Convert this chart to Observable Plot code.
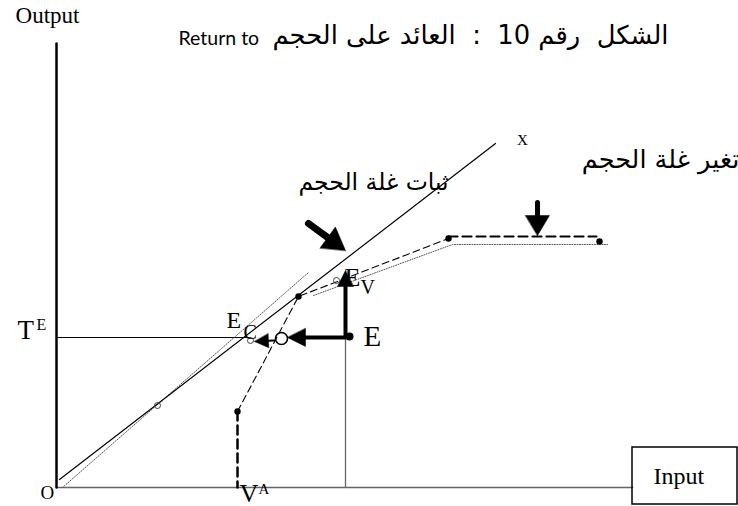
<!DOCTYPE html>
<html><head><meta charset="utf-8">
<script src="https://cdn.jsdelivr.net/npm/d3@7"></script>
<script src="https://cdn.jsdelivr.net/npm/@observablehq/plot@0.6"></script>
<style>body{margin:0;background:#fff}</style>
</head><body><div id="chart"></div>
<script>
// data units: origin O = (0,0), one unit per pixel
const yAxisLine = [{x:0,y:0},{x:0,y:444}];
const xAxisLine = [{x:0,y:0},{x:576,y:0}];
const inputBox = [{x1:576,x2:681,y1:-17,y2:40}];
const constantReturns = [{x:3,y:8},{x:439,y:344}];
const originRay = [{x:6,y:0},{x:252,y:215}];
const teLine = [{x:0,y:150},{x:194,y:150}];
const eDrop = [{x:289,y:151},{x:289,y:0}];
const variableReturns = [{x:181,y:76},{x:242,y:191},{x:392,y:249}];
const plateau = [{x:392,y:251},{x:540,y:251}];
const vaDrop = [{x:181,y:76},{x:181,y:0}];
const lowerDotted = [{x:257,y:192},{x:396,y:243},{x:551,y:243}];
const solidDots = [{x:181,y:76},{x:242,y:191},{x:392,y:249},{x:543,y:246}];
const pointE = [{x:293,y:151}];
const hollowDots = [{x:101,y:82},{x:194,y:147},{x:280,y:207}];
const bigCircle = [{x:225,y:149}];
// arrows: from (x1,y1) to tip (x2,y2)
const arrowsData = [
  {id:"up",   x1:289,y1:151,x2:289,y2:217},
  {id:"left", x1:289,y1:150,x2:231,y2:150},
  {id:"small",x1:218,y1:147,x2:198,y2:146},
  {id:"diag", x1:252,y1:264,x2:289,y2:237},
  {id:"down", x1:481,y1:285,x2:481,y2:252}
];
// labels
const serifLabels = [
  {t:"Output", x:-9, y:465},
  {t:"X", x:466, y:343},
  {t:"T", x:-39, y:149},
  {t:"E", x:-20, y:158},
  {t:"E", x:170, y:160},
  {t:"C", x:187, y:149},
  {t:"E", x:288, y:202},
  {t:"V", x:304, y:194},
  {t:"E", x:307, y:142},
  {t:"O", x:-16, y:-11},
  {t:"V", x:183, y:-14},
  {t:"A", x:202, y:-6},
  {t:"Input", x:597, y:4}
];
const serifSizes = [23,15,27,16,24,20,26,20,29,19,26,15,24];
const titleLatin = [{t:"Return to", x:122, y:443}];
const titleArabic = [{t:"الشكل  رقم 10  :  العائد على الحجم", x:612, y:444}];
const arabicLabels = [
  {t:"ثبات غلة الحجم", x:317, y:298},
  {t:"تغير غلة الحجم", x:604, y:320}
];
const arabicSizes = [23.5,25.5];

// arrow geometry (shaft + filled head) derived from arrow data
const headDims = {up:[16,8], left:[18,9], small:[14,7], diag:[22,13], down:[20,12]};
const shaftWidths = {up:4, left:4, small:2, diag:7, down:5};
const shafts = [], heads = [];
for (const a of arrowsData) {
  const [len, hw] = headDims[a.id];
  const dx = a.x2 - a.x1, dy = a.y2 - a.y1, L = Math.hypot(dx, dy);
  const ux = dx / L, uy = dy / L, nx = -uy, ny = ux;
  const bx = a.x2 - ux * len, by = a.y2 - uy * len;
  shafts.push({id:a.id, x:a.x1, y:a.y1}, {id:a.id, x:bx + ux, y:by + uy});
  heads.push({id:a.id, x:a.x2, y:a.y2},
             {id:a.id, x:bx + nx*hw, y:by + ny*hw},
             {id:a.id, x:bx - nx*hw, y:by - ny*hw});
}

const serif = "Liberation Serif, Times New Roman, serif";
const arab = "DejaVu Sans, sans-serif";

const marks = [
  Plot.line(xAxisLine, {x:"x", y:"y", stroke:"#666", strokeWidth:1.6}),
  Plot.line(yAxisLine, {x:"x", y:"y", stroke:"#000", strokeWidth:2.5}),
  Plot.rect(inputBox, {x1:"x1", x2:"x2", y1:"y1", y2:"y2", fill:"none", stroke:"#000", strokeWidth:1.5}),
  Plot.line(teLine, {x:"x", y:"y", stroke:"#000", strokeWidth:1}),
  Plot.line(eDrop, {x:"x", y:"y", stroke:"#666", strokeWidth:1.3}),
  Plot.line(originRay, {x:"x", y:"y", stroke:"#555", strokeWidth:1, strokeDasharray:"1,1.5"}),
  Plot.line(lowerDotted, {x:"x", y:"y", stroke:"#555", strokeWidth:1, strokeDasharray:"1,1.5"}),
  Plot.line(constantReturns, {x:"x", y:"y", stroke:"#000", strokeWidth:1.2}),
  Plot.line(variableReturns, {x:"x", y:"y", stroke:"#000", strokeWidth:1.1, strokeDasharray:"7,4"}),
  Plot.line(plateau, {x:"x", y:"y", stroke:"#000", strokeWidth:2.2, strokeDasharray:"9,5"}),
  Plot.line(vaDrop, {x:"x", y:"y", stroke:"#000", strokeWidth:2.5, strokeDasharray:"9,5"}),
  Plot.dot(solidDots, {x:"x", y:"y", r:3.2, fill:"#000"}),
  Plot.dot(pointE, {x:"x", y:"y", r:4, fill:"#000"}),
  Plot.dot(hollowDots, {x:"x", y:"y", r:3, stroke:"#444", strokeWidth:1, fill:"none"}),
  Plot.dot(bigCircle, {x:"x", y:"y", r:6, stroke:"#000", strokeWidth:1.6, fill:"none"}),
  ...arrowsData.map(a => Plot.line(shafts.filter(d => d.id === a.id), {x:"x", y:"y", stroke:"#000", strokeWidth:shaftWidths[a.id]})),
  Plot.line(heads, {x:"x", y:"y", z:"id", fill:"#000", stroke:"#000", strokeWidth:0.5, curve:"linear-closed"}),
  ...serifLabels.map((d, i) => Plot.text([d], {x:"x", y:"y", text:"t", textAnchor: (d.t === "Output" || d.t === "X") ? "middle" : "start", lineAnchor:"bottom", fontSize:serifSizes[i], fontFamily:serif, fill:"#000"})),
  Plot.text(titleLatin, {x:"x", y:"y", text:"t", textAnchor:"start", lineAnchor:"bottom", fontSize:19.5, fontFamily:"Lato, Open Sans, sans-serif", fill:"#000"}),
  Plot.text(titleArabic, {x:"x", y:"y", text:"t", textAnchor:"end", lineAnchor:"bottom", fontSize:25.8, fontFamily:arab, fill:"#000"}),
  ...arabicLabels.map((d, i) => Plot.text([d], {x:"x", y:"y", text:"t", textAnchor:"middle", lineAnchor:"bottom", fontSize:arabicSizes[i], fontFamily:arab, fill:"#000"}))
];

const chart = Plot.plot({
  width: 738, height: 506,
  marginTop: 0, marginRight: 0, marginBottom: 0, marginLeft: 0,
  x: {domain: [-56, 682], range: [0, 738], axis: null},
  y: {domain: [-19, 487], range: [506, 0], axis: null},
  style: {background: "#fff", overflow: "visible"},
  marks
});
document.getElementById("chart").appendChild(chart);
</script></body></html>
